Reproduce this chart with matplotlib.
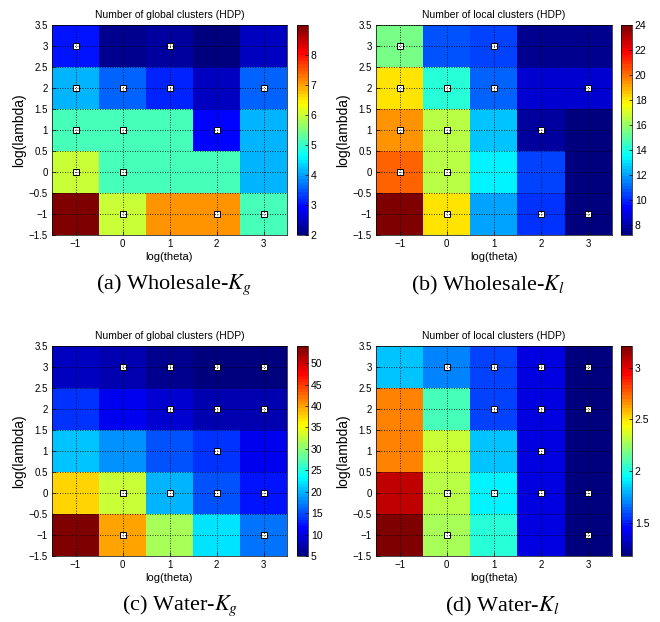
import numpy as np
import matplotlib
matplotlib.use("Agg")
import matplotlib.pyplot as plt
from matplotlib.colors import LinearSegmentedColormap

plt.rcParams["font.family"] = ["Liberation Sans", "DejaVu Sans"]
plt.rcParams["mathtext.fontset"] = "stix"

# ---------- Data ----------
theta = [-1, 0, 1, 2, 3]
lam = [-1, 0, 1, 2, 3]

# rows: log(lambda) = -1 .. 3, columns: log(theta) = -1 .. 3
wholesale_kg = [
    [9.0, 6.0, 7.1, 7.1, 5.1],
    [6.0, 5.1, 5.1, 5.1, 4.1],
    [5.1, 5.1, 5.1, 2.9, 4.1],
    [4.1, 3.6, 3.1, 2.5, 3.6],
    [3.0, 2.2, 2.3, 2.0, 2.5],
]
wholesale_kl = [
    [24.0, 18.2, 12.1, 10.3, 7.2],
    [20.2, 16.4, 13.4, 10.4, 7.2],
    [19.3, 16.4, 12.5, 7.8, 7.2],
    [18.2, 14.1, 11.0, 8.7, 8.7],
    [15.5, 10.8, 10.5, 7.5, 7.6],
]
water_kg = [
    [54.0, 40.0, 31.5, 22.0, 16.5],
    [37.3, 32.6, 20.3, 15.3, 12.0],
    [21.0, 18.5, 15.3, 13.6, 11.0],
    [13.6, 11.0, 9.5, 8.0, 8.0],
    [8.5, 7.5, 6.0, 5.5, 5.0],
]
water_kl = [
    [3.21, 2.28, 2.03, 1.38, 1.20],
    [3.06, 2.30, 1.94, 1.38, 1.20],
    [2.70, 2.35, 1.84, 1.38, 1.20],
    [2.70, 2.07, 1.57, 1.38, 1.20],
    [1.84, 1.69, 1.57, 1.38, 1.18],
]

# selected (theta, lambda) settings marked with squares
wholesale_mark_theta = [-1, 1, -1, 0, 1, 3, -1, 0, 2, -1, 0, 0, 2, 3]
wholesale_mark_lam = [3, 3, 2, 2, 2, 2, 1, 1, 1, 0, 0, -1, -1, -1]
water_mark_theta = [0, 1, 2, 3, 1, 2, 3, 2, 0, 1, 2, 3, 0, 3]
water_mark_lam = [3, 3, 3, 3, 2, 2, 2, 1, 0, 0, 0, 0, -1, -1]

cbar_ticks_a = [2, 3, 4, 5, 6, 7, 8]
cbar_ticks_b = [8, 10, 12, 14, 16, 18, 20, 22, 24]
cbar_ticks_c = [5, 10, 15, 20, 25, 30, 35, 40, 45, 50]
cbar_ticks_d = [1.5, 2, 2.5, 3]

y_ticks = [-1.5, -1, -0.5, 0, 0.5, 1, 1.5, 2, 2.5, 3, 3.5]

# MATLAB style jet
matlab_jet = LinearSegmentedColormap("matlab_jet", {
    "red": [(0, 0, 0), (0.375, 0, 0), (0.625, 1, 1), (0.875, 1, 1), (1, 0.5, 0.5)],
    "green": [(0, 0, 0), (0.125, 0, 0), (0.375, 1, 1), (0.625, 1, 1), (0.875, 0, 0), (1, 0, 0)],
    "blue": [(0, 0.5, 0.5), (0.125, 1, 1), (0.375, 1, 1), (0.625, 0, 0), (1, 0, 0)],
}, N=64)

W, H = 660, 622
fig = plt.figure(figsize=(6.6, 6.22), dpi=100)


def rect(left, top, width, height):
    return [left / W, (H - top - height) / H, width / W, height / H]


def fmt(v):
    s = f"{v:g}"
    return s.replace("-", "\u2212")


def panel(left, top, width, cb_left, data, title, mth, mlam, cticks, caption, cap_x, cap_y):
    ax = fig.add_axes(rect(left, top, width, 210))
    im = ax.imshow(np.array(data), origin="lower", cmap=matlab_jet, aspect="auto",
                   extent=[-1.5, 3.5, -1.5, 3.5], interpolation="nearest")
    ax.plot(mth, mlam, "s", ms=5, mfc="white", mec="black", mew=0.7, zorder=2)
    ax.set_xlim(-1.5, 3.5)
    ax.set_ylim(-1.5, 3.5)
    ax.set_xticks(theta)
    ax.set_xticklabels([fmt(t) for t in theta])
    ax.set_yticks(y_ticks)
    ax.set_yticklabels([fmt(t) for t in y_ticks])
    ax.tick_params(direction="in", labelsize=7, length=3, width=0.5, pad=3)
    ax.grid(True, color="black", linestyle=(0, (1, 2)), linewidth=0.6, zorder=3)
    ax.set_axisbelow(False)
    for s in ax.spines.values():
        s.set_linewidth(0.5)
    ax.set_title(title, fontsize=7.5, pad=5)
    ax.set_xlabel("log(theta)", fontsize=8, labelpad=2)
    ax.set_ylabel("log(lambda)", fontsize=10, labelpad=2)

    cax = fig.add_axes(rect(cb_left, top, 11, 210))
    cb = fig.colorbar(im, cax=cax, ticks=cticks)
    cb.ax.set_yticklabels([fmt(t) for t in cticks])
    cb.ax.tick_params(direction="in", labelsize=7.5, length=2, width=0.5, pad=2)
    cb.outline.set_linewidth(0.5)

    fig.text(cap_x / W, 1 - cap_y / H, caption, ha="center", va="center",
             fontsize=16, family=["Liberation Serif", "DejaVu Serif"])


panel(52, 25, 235, 297, wholesale_kg, "Number of global clusters (HDP)",
      wholesale_mark_theta, wholesale_mark_lam, cbar_ticks_a,
      "(a) Wholesale-$K_g$", 174, 285)
panel(376, 25, 236, 621, wholesale_kl, "Number of local clusters (HDP)",
      wholesale_mark_theta, wholesale_mark_lam, cbar_ticks_b,
      "(b) Wholesale-$K_l$", 488, 285)
panel(52, 346, 235, 297, water_kg, "Number of global clusters (HDP)",
      water_mark_theta, water_mark_lam, cbar_ticks_c,
      "(c) Water-$K_g$", 180, 606)
panel(376, 346, 236, 621, water_kl, "Number of local clusters (HDP)",
      water_mark_theta, water_mark_lam, cbar_ticks_d,
      "(d) Water-$K_l$", 502, 606)

fig.savefig("out.png", dpi=100)
